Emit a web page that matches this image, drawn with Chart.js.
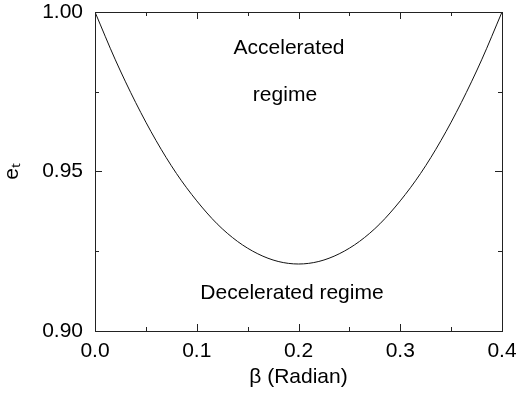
<!DOCTYPE html>
<html>
<head>
<meta charset="utf-8">
<script src="https://cdn.jsdelivr.net/npm/chart.js@4/dist/chart.umd.min.js"></script>
<style>
html,body{margin:0;padding:0;background:#fff;}
#wrap{width:516px;height:394px;position:relative;}
</style>
</head>
<body>
<div id="wrap"><canvas id="c" width="516" height="394"></canvas></div>
<script>
// Data
const betaValues = [0.00,0.02,0.04,0.06,0.08,0.10,0.12,0.14,0.16,0.18,0.20,0.22,0.24,0.26,0.28,0.30,0.32,0.34,0.36,0.38,0.40];
const etValues   = [1.000,0.985,0.9716,0.9597,0.9494,0.9408,0.9336,0.9281,0.9242,0.9218,0.921,0.9218,0.9242,0.9281,0.9336,0.9408,0.9494,0.9597,0.9716,0.985,1.000];
const xTickValues = [0.0,0.1,0.2,0.3,0.4];
const yTickValues = [0.90,0.95,1.00];
const regimeLabels = ["Accelerated","regime","Decelerated regime"];

const FONT = "'Liberation Sans', Arial, Helvetica, sans-serif";
const FS = 21;
const points = betaValues.map((b,i)=>({x:b,y:etValues[i]}));

const frame = {
  id:'frame',
  afterDraw(chart){
    const {ctx, chartArea:a, scales:{x,y}} = chart;
    ctx.save();
    ctx.strokeStyle = '#222';
    ctx.lineWidth = 1;
    ctx.strokeRect(Math.round(a.left)+0.5, Math.round(a.top)+0.5, Math.round(a.right-a.left), Math.round(a.bottom-a.top));
    ctx.beginPath();
    for (let v=0; v<=0.4001; v+=0.05){
      const px = Math.round(x.getPixelForValue(v))+0.5;
      const major = Math.abs(v/0.1 - Math.round(v/0.1))<1e-6;
      const L = major?7:4;
      ctx.moveTo(px,a.bottom); ctx.lineTo(px,a.bottom-L);
      ctx.moveTo(px,a.top); ctx.lineTo(px,a.top+L);
    }
    for (let v=0.90; v<=1.0001; v+=0.025){
      const py = Math.round(y.getPixelForValue(v))+0.5;
      const major = Math.abs(v/0.05 - Math.round(v/0.05))<1e-6;
      const L = major?7:4;
      ctx.moveTo(a.left,py); ctx.lineTo(a.left+L,py);
      ctx.moveTo(a.right,py); ctx.lineTo(a.right-L,py);
    }
    ctx.stroke();
    ctx.fillStyle = '#000';
    ctx.font = FS + 'px ' + FONT;
    ctx.textAlign = 'center';
    ctx.textBaseline = 'middle';
    ctx.fillText(regimeLabels[0], x.getPixelForValue(0.1907), y.getPixelForValue(0.9887));
    ctx.fillText(regimeLabels[1], x.getPixelForValue(0.1867), y.getPixelForValue(0.974));
    ctx.fillText(regimeLabels[2], x.getPixelForValue(0.1936), y.getPixelForValue(0.9119));
    ctx.restore();
  }
};

new Chart(document.getElementById('c'), {
  type:'line',
  data:{datasets:[{data:points, borderColor:'#111', borderWidth:1, pointRadius:0, fill:false, cubicInterpolationMode:'monotone'}]},
  options:{
    responsive:false, animation:false,
    layout:{padding:{top:0,right:0,left:0,bottom:0}},
    plugins:{legend:{display:false}, tooltip:{enabled:false}},
    scales:{
      x:{type:'linear', min:0, max:0.4,
        afterBuildTicks(s){ s.ticks = xTickValues.map(v=>({value:v})); },
        afterFit(s){ s.height = 63; s.paddingLeft = 0; s.paddingRight = 14; },
        grid:{display:false, drawTicks:false}, border:{display:false},
        ticks:{color:'#000', font:{family:FONT,size:FS}, padding:8, maxRotation:0, callback:v=>Number(v).toFixed(1)},
        title:{display:true, text:'β (Radian)', color:'#000', font:{family:FONT,size:FS}, padding:{top:0,bottom:4}}
      },
      y:{type:'linear', min:0.90, max:1.00,
        afterBuildTicks(s){ s.ticks = yTickValues.map(v=>({value:v})); },
        afterFit(s){ s.width = 95; s.paddingTop = 12; s.paddingBottom = 0; },
        grid:{display:false, drawTicks:false}, border:{display:false},
        ticks:{color:'#000', font:{family:FONT,size:FS}, padding:12, callback:v=>Number(v).toFixed(2)},
        title:{display:true, text:'eₜ', color:'#000', font:{family:FONT,size:FS}, padding:{top:0,bottom:0}}
      }
    }
  },
  plugins:[frame]
});
</script>
</body>
</html>
